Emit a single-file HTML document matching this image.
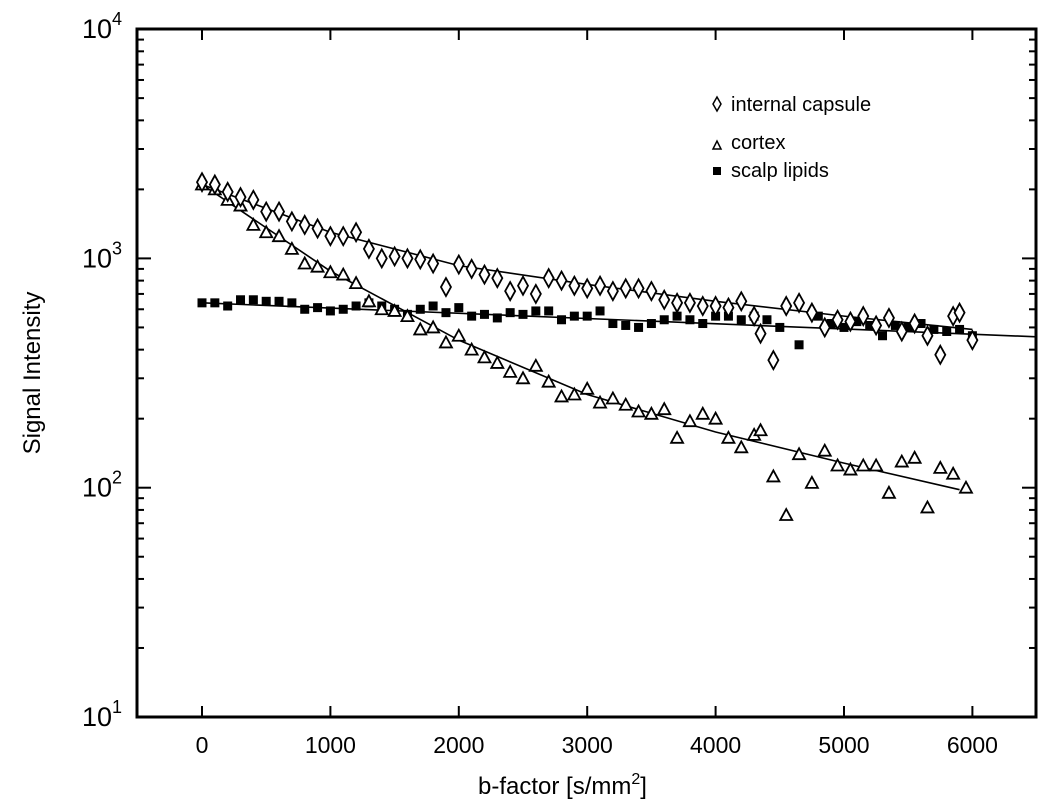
<!DOCTYPE html>
<html><head><meta charset="utf-8"><style>
body{margin:0;background:#fff;}
svg{display:block;font-family:"Liberation Sans",sans-serif;}
</style></head><body>
<svg id="chart" width="1050" height="809" viewBox="0 0 1050 809">
<rect x="137" y="29" width="899" height="688" fill="none" stroke="#000" stroke-width="3"/>
<g id="ticks"></g><g id="lines"></g><g id="marks"></g>
<text x="478" y="794" font-size="24">b-factor [s/mm<tspan dy="-10" font-size="16">2</tspan><tspan dy="10">]</tspan></text>
<text transform="translate(40,373) rotate(-90)" text-anchor="middle" font-size="24">Signal Intensity</text>
<g>
<path d="M717 97 L721 104 L717 111 L713 104 Z" fill="none" stroke="#000" stroke-width="1.5"/>
<text x="731" y="111" font-size="20">internal capsule</text>
<path d="M713 149 L717 141 L721 149 Z" fill="none" stroke="#000" stroke-width="1.5"/>
<text x="731" y="149" font-size="20">cortex</text>
<rect x="713" y="167" width="8" height="8" fill="#000"/>
<text x="731" y="177" font-size="20">scalp lipids</text>
</g>
</svg>
<script>
const xTicks=[0,1000,2000,3000,4000,5000,6000];
const yDecades=[1,2,3,4];
const bIC=[0,100,200,300,400,500,600,700,800,900,1000,1100,1200,1300,1400,1500,1600,1700,1800,1900,2000,2100,2200,2300,2400,2500,2600,2700,2800,2900,3000,3100,3200,3300,3400,3500,3600,3700,3800,3900,4000,4100,4200,4300,4350,4450,4550,4650,4750,4850,4950,5050,5150,5250,5350,5450,5550,5650,5750,5850,5900,6000];
const vIC=[2150,2100,1950,1850,1800,1600,1600,1450,1400,1350,1250,1250,1300,1100,1000,1020,1000,990,950,750,940,900,850,820,720,760,700,820,800,760,740,760,720,740,740,720,660,640,640,620,620,610,650,560,470,360,620,640,580,500,540,530,560,510,550,480,520,460,380,560,580,440];
const bCX=[0,100,200,300,400,500,600,700,800,900,1000,1100,1200,1300,1400,1500,1600,1700,1800,1900,2000,2100,2200,2300,2400,2500,2600,2700,2800,2900,3000,3100,3200,3300,3400,3500,3600,3700,3800,3900,4000,4100,4200,4300,4350,4450,4550,4650,4750,4850,4950,5050,5150,5250,5350,5450,5550,5650,5750,5850,5950];
const vCX=[2100,2000,1800,1700,1400,1300,1250,1100,950,920,870,850,780,650,600,590,560,490,500,430,460,400,370,350,320,300,340,290,250,255,270,235,245,230,215,210,220,165,195,210,200,165,150,170,178,112,76,140,105,145,125,120,125,125,95,130,135,82,122,115,100];
const bLP=[0,100,200,300,400,500,600,700,800,900,1000,1100,1200,1300,1400,1500,1600,1700,1800,1900,2000,2100,2200,2300,2400,2500,2600,2700,2800,2900,3000,3100,3200,3300,3400,3500,3600,3700,3800,3900,4000,4100,4200,4300,4400,4500,4650,4800,4900,5000,5100,5200,5300,5400,5500,5600,5700,5800,5900,6000];
const vLP=[640,640,620,660,660,650,650,640,600,610,590,600,620,640,620,600,570,600,620,580,610,560,570,550,580,570,590,590,540,560,560,590,520,510,500,520,540,560,540,520,560,560,540,560,540,500,420,560,520,500,530,510,460,510,500,520,490,480,490,460];
const fitB=[0,1000,2000,3000,4000,5000,6000];
const fitIC=[2100,1300,930,770,650,560,490];
const fitCX=[2100,880,440,255,175,128,98];
const fitLPb=[0,6500];
const fitLP=[640,455];
const X=b=>202+b*0.1284;
const Y=v=>717-(Math.log10(v)-1)*229.3;
const NS='http://www.w3.org/2000/svg';
function el(tag,attrs,parent){const e=document.createElementNS(NS,tag);for(const k in attrs)e.setAttribute(k,attrs[k]);document.getElementById(parent).appendChild(e);return e;}
xTicks.forEach(t=>{
 const a=el('line',{x1:X(t),x2:X(t),y1:717,y2:706,stroke:'#000','stroke-width':2},'ticks');
 
 
 const b=el('line',{x1:X(t),x2:X(t),y1:29,y2:40,stroke:'#000','stroke-width':2},'ticks');
 
 
 const l=el('text',{x:X(t),y:753,'text-anchor':'middle','font-size':23},'ticks');l.textContent=t;
 
 
});
yDecades.forEach(d=>{
 const y=Y(Math.pow(10,d));
 const l=el('text',{x:122,y:y+9,'text-anchor':'end','font-size':27},'ticks');
 l.innerHTML='10<tspan dy="-13" font-size="18">'+d+'</tspan>';
 
 
 if(d<4){for(let m=1;m<=9;m++){const yy=Y(m*Math.pow(10,d));const len=m===1?14:7;
  const a=el('line',{x1:137,x2:137+len,y1:yy,y2:yy,stroke:'#000','stroke-width':2},'ticks');
  
  
  const b=el('line',{x1:1036,x2:1036-len,y1:yy,y2:yy,stroke:'#000','stroke-width':2},'ticks');
  
  }}
});
function fit(bs,vs,name){const p=el('polyline',{points:bs.map((b,i)=>X(b)+','+Y(vs[i])).join(' '),fill:'none',stroke:'#000','stroke-width':1.6},'lines');
 
 }
fit(fitB,fitIC,'fit-line-internal-capsule');
fit(fitB.slice(0,6).concat([5900]),fitCX,'fit-line-cortex');
fit(fitLPb,fitLP,'fit-line-scalp-lipids');
bLP.forEach((b,i)=>{const x=X(b),y=Y(vLP[i]);const r=el('rect',{x:x-4.5,y:y-4.5,width:9,height:9,fill:'#000'},'marks');
 
 });
bCX.forEach((b,i)=>{const x=X(b),y=Y(vCX[i]);const p=el('path',{d:`M${x-6} ${y+5} L${x} ${y-6} L${x+6} ${y+5} Z`,fill:'#fff',stroke:'#000','stroke-width':1.8},'marks');
 
 });
bIC.forEach((b,i)=>{const x=X(b),y=Y(vIC[i]);const p=el('path',{d:`M${x} ${y-9} L${x+5} ${y} L${x} ${y+9} L${x-5} ${y} Z`,fill:'#fff',stroke:'#000','stroke-width':1.8},'marks');
 
 });
</script>
</body></html>
